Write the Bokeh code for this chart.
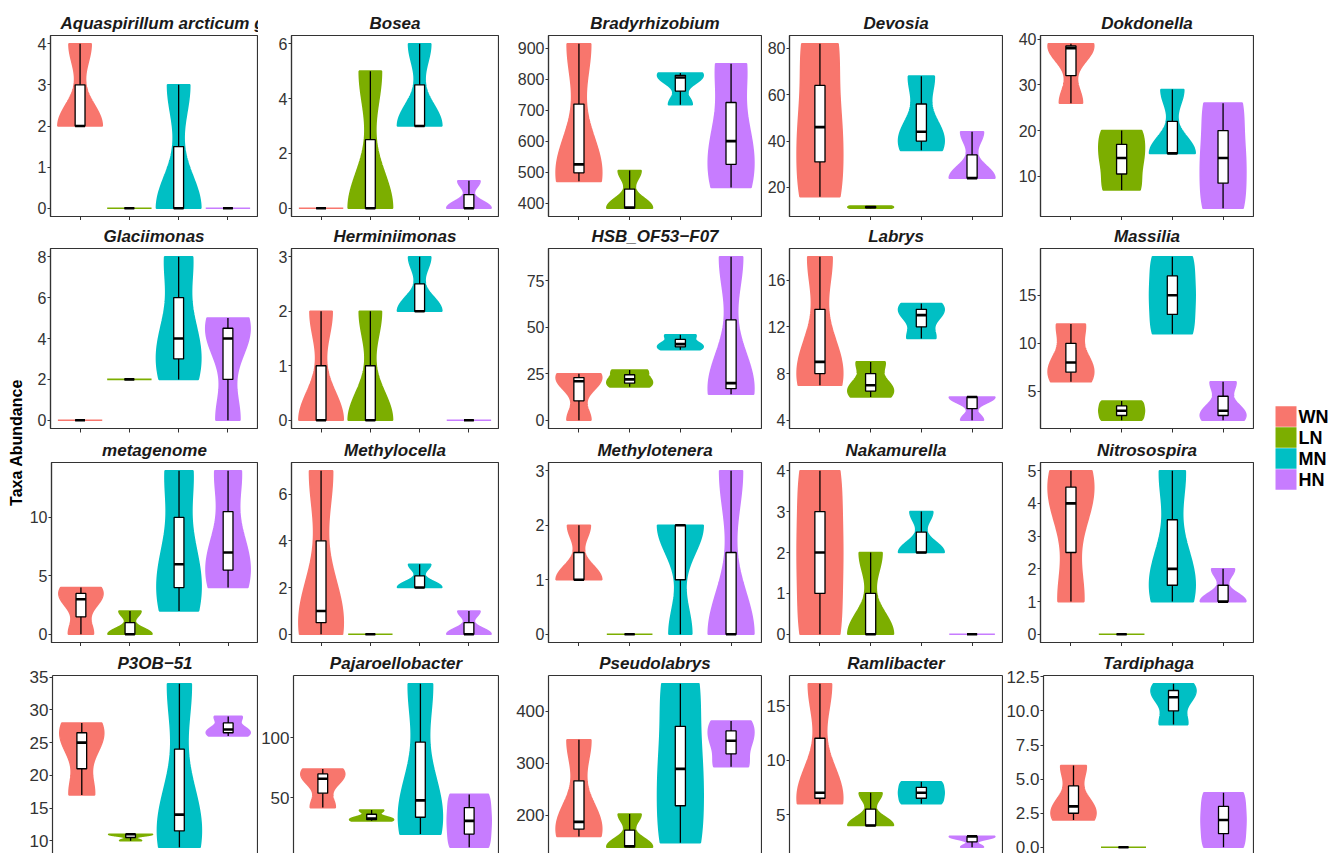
import numpy as np
from bokeh.plotting import figure
from bokeh.layouts import row, column
from bokeh.models import Range1d, FixedTicker, LinearAxis
from bokeh.core.properties import value
from bokeh.embed import file_html
from bokeh.resources import INLINE

# ---------------- data ----------------
groups = ["WN", "LN", "MN", "HN"]
group_colors = ["#F8766D", "#7CAE00", "#00BFC4", "#C77CFF"]

titles = ["Aquaspirillum arcticum g", "Bosea", "Bradyrhizobium", "Devosia", "Dokdonella",
          "Glaciimonas", "Herminiimonas", "HSB_OF53\u2212F07", "Labrys", "Massilia",
          "metagenome", "Methylocella", "Methylotenera", "Nakamurella", "Nitrosospira",
          "P3OB\u221251", "Pajaroellobacter", "Pseudolabrys", "Ramlibacter", "Tardiphaga"]

# three replicates per group, in the order WN, LN, MN, HN
aquaspirillum = [[2, 2, 4], [0, 0, 0], [0, 0, 3], [0, 0, 0]]
bosea = [[0, 0, 0], [0, 0, 5], [3, 3, 6], [0, 0, 1]]
bradyrhizobium = [[470, 525, 915], [383, 385, 505], [718, 806, 820], [450, 600, 850]]
devosia = [[16, 46, 82], [11, 11.5, 12], [36, 44, 68], [24, 24, 44]]
dokdonella = [[26, 38, 39], [7, 14, 20], [15, 15, 29], [3, 14, 26]]
glaciimonas = [[0, 0, 0], [2, 2, 2], [2, 4, 8], [0, 4, 5]]
herminiimonas = [[0, 0, 2], [0, 0, 2], [2, 2, 3], [0, 0, 0]]
hsb_of53 = [[0, 21, 25], [18, 22, 27], [38, 41, 46], [14, 20, 88]]
labrys = [[7, 9, 18], [6, 7, 9], [11, 13, 14], [4, 6, 6]]
massilia = [[6, 8, 12], [2, 3, 4], [11, 15, 19], [2, 3, 6]]
metagenome = [[0, 3, 4], [0, 0, 2], [2, 6, 14], [4, 7, 14]]
methylocella = [[0, 1, 7], [0, 0, 0], [2, 2, 3], [0, 0, 1]]
methylotenera = [[1, 1, 2], [0, 0, 0], [0, 2, 2], [0, 0, 3]]
nakamurella = [[0, 2, 4], [0, 0, 2], [2, 2, 3], [0, 0, 0]]
nitrosospira = [[1, 4, 5], [0, 0, 0], [1, 2, 5], [1, 1, 2]]
p3ob_51 = [[17, 25, 28], [10, 11, 11], [9, 14, 34], [26, 27, 29]]
pajaroellobacter = [[42, 66, 74], [31, 33, 40], [20, 48, 145], [9, 31, 53]]
pseudolabrys = [[159, 187, 345], [138, 140, 202], [147, 289, 453], [293, 343, 381]]
ramlibacter = [[6, 7, 17], [4, 4, 7], [6, 7, 8], [2, 3, 3]]
tardiphaga = [[2, 3, 6], [0, 0, 0], [9, 11, 12], [0, 2, 4]]

panels = [aquaspirillum, bosea, bradyrhizobium, devosia, dokdonella,
          glaciimonas, herminiimonas, hsb_of53, labrys, massilia,
          metagenome, methylocella, methylotenera, nakamurella, nitrosospira,
          p3ob_51, pajaroellobacter, pseudolabrys, ramlibacter, tardiphaga]

y_ticks = [[0, 1, 2, 3, 4], [0, 2, 4, 6], [400, 500, 600, 700, 800, 900], [20, 40, 60, 80], [10, 20, 30, 40],
           [0, 2, 4, 6, 8], [0, 1, 2, 3], [0, 25, 50, 75], [4, 8, 12, 16], [5, 10, 15],
           [0, 5, 10], [0, 2, 4, 6], [0, 1, 2, 3], [0, 1, 2, 3, 4], [0, 1, 2, 3, 4, 5],
           [10, 15, 20, 25, 30, 35], [50, 100], [200, 300, 400], [5, 10, 15], [0, 2.5, 5, 7.5, 10, 12.5]]

y_title = "Taxa Abundance"

# ---------------- layout / style ----------------
FONT = "Liberation Sans"
INK = "#333333"
row_specs = [(220, 35, 4), (213, 28, 5), (213, 29, 4), (207, 29, 0)]   # height, top border, bottom border
col_specs = [(232, 24), (241, 33), (263, 49), (241, 27), (251, 37)]    # width, left border
LABEL_W = 26
LEGEND_W = 74
FULL_FRAME = 180.0
VIOLIN_W = 0.45
BOX_W = 0.1


def bw_nrd0(x):
    x = np.asarray(x, float)
    hi = np.std(x, ddof=1)
    q75, q25 = np.percentile(x, [75, 25])
    lo = min(hi, (q75 - q25) / 1.34)
    if not lo:
        lo = hi or abs(x[0]) or 1.0
    return 0.9 * lo * len(x) ** -0.2


def violin_shape(x, pos):
    x = np.asarray(x, float)
    lo, hi = x.min(), x.max()
    if hi == lo:
        return [pos - VIOLIN_W, pos + VIOLIN_W, pos + VIOLIN_W, pos - VIOLIN_W], [lo, lo, lo, lo]
    bw = bw_nrd0(x)
    ys = np.linspace(lo, hi, 256)
    d = np.exp(-0.5 * ((ys[:, None] - x[None, :]) / bw) ** 2).sum(axis=1)
    d = d / d.max() * VIOLIN_W
    xs = np.concatenate([pos - d, (pos + d)[::-1]])
    yy = np.concatenate([ys, ys[::-1]])
    return list(xs), list(yy)


def make_panel(k, r, c):
    vals = panels[k]
    allv = np.concatenate([np.asarray(v, float) for v in vals])
    lo, hi = allv.min(), allv.max()
    pad = 0.05 * (hi - lo)
    y0, y1 = lo - pad, hi + pad
    height, top, bottom = row_specs[r]
    width, left = col_specs[c]
    frame_h = height - top - bottom
    last = (r == len(row_specs) - 1)
    if last:
        y0 = y1 - (y1 - y0) * frame_h / FULL_FRAME
    p = figure(width=width, height=height, x_range=Range1d(0.4, 4.6), y_range=Range1d(y0, y1),
               output_backend="svg", toolbar_location=None, title=titles[k],
               min_border_left=left, min_border_right=1, min_border_top=top, min_border_bottom=bottom,
               x_axis_location=None if last else "below")
    p.background_fill_color = "white"
    p.border_fill_color = "white"
    p.xgrid.visible = False
    p.ygrid.visible = False

    t = p.title
    t.text_font = FONT
    t.text_font_size = "17px"
    t.text_font_style = "bold italic"
    t.text_color = "#1a1a1a"
    t.standoff = 5
    if k == 0:
        t.align = "left"
        t.offset = 10
    else:
        t.align = "center"

    pos = [i + 1 for i in range(len(groups))]
    xs, ys = [], []
    for i, v in enumerate(vals):
        a, b = violin_shape(v, pos[i])
        xs.append(a)
        ys.append(b)
    p.patches(xs, ys, fill_color=group_colors, line_color=group_colors, line_width=1.6)

    q1 = [float(np.percentile(v, 25)) for v in vals]
    med = [float(np.percentile(v, 50)) for v in vals]
    q3 = [float(np.percentile(v, 75)) for v in vals]
    mn = [float(min(v)) for v in vals]
    mx = [float(max(v)) for v in vals]
    p.segment(x0=pos, x1=pos, y0=mn, y1=mx, line_color="black", line_width=1.3)
    p.quad(left=[x - BOX_W for x in pos], right=[x + BOX_W for x in pos], bottom=q1, top=q3,
           fill_color="white", line_color="black", line_width=1.3)
    p.segment(x0=[x - BOX_W for x in pos], x1=[x + BOX_W for x in pos], y0=med, y1=med,
              line_color="black", line_width=2.6)

    ticks = y_ticks[k]
    fmt = (lambda v: "%d" % v) if all(float(v).is_integer() for v in ticks) else (lambda v: "%.1f" % v)
    ya = p.yaxis[0]
    ya.ticker = FixedTicker(ticks=ticks)
    ya.major_label_overrides = {float(v): fmt(v) for v in ticks}
    ya.major_label_text_font = FONT
    ya.major_label_text_font_size = "17px" if last else "16px"
    ya.major_label_text_color = INK
    ya.major_label_standoff = 1
    ya.major_tick_out = 3
    ya.major_tick_in = 0
    ya.minor_tick_out = 0
    ya.minor_tick_in = 0
    ya.major_tick_line_color = INK
    ya.axis_line_color = INK
    ya.axis_line_width = 1.2

    if not last:
        xa = p.xaxis[0]
        xa.ticker = FixedTicker(ticks=pos)
        xa.major_label_overrides = {float(x): "" for x in pos}
        xa.major_label_text_font_size = "0px"
        xa.major_label_standoff = 0
        xa.major_tick_out = 4
        xa.major_tick_in = 0
        xa.minor_tick_out = 0
        xa.minor_tick_in = 0
        xa.major_tick_line_color = INK
        xa.axis_line_color = None
        p.outline_line_color = INK
        p.outline_line_width = 1.2
    else:
        p.outline_line_color = None
        for loc in ("above", "right"):
            ax = LinearAxis(ticker=FixedTicker(ticks=[]), major_label_text_font_size="0px",
                            major_label_standoff=0, major_tick_out=0, major_tick_in=0,
                            minor_tick_out=0, minor_tick_in=0,
                            axis_line_color=INK, axis_line_width=1.2)
            p.add_layout(ax, loc)
    return p


total_h = sum(h for h, _, _ in row_specs)

# y-axis title strip
lab = figure(width=LABEL_W, height=total_h, x_range=Range1d(0, LABEL_W), y_range=Range1d(0, total_h),
             output_backend="svg", toolbar_location=None, x_axis_type=None, y_axis_type=None,
             min_border=0)
lab.outline_line_color = None
lab.xgrid.visible = False
lab.ygrid.visible = False
lab.text(x=[16], y=[total_h - 442], text=[y_title], angle=np.pi / 2,
         text_align="center", text_baseline="middle", text_font=value(FONT),
         text_font_style="bold", text_font_size="16px", text_color="black")

# panels
grid_rows = []
for r in range(4):
    grid_rows.append(row(*[make_panel(r * 5 + c, r, c) for c in range(5)], spacing=0))
panel_block = column(*grid_rows, spacing=0)

# legend strip
leg = figure(width=LEGEND_W, height=total_h, x_range=Range1d(0, LEGEND_W), y_range=Range1d(0, total_h),
             output_backend="svg", toolbar_location=None, x_axis_type=None, y_axis_type=None,
             min_border=0)
leg.outline_line_color = None
leg.xgrid.visible = False
leg.ygrid.visible = False
key_y = [total_h - (416 + 21 * i) for i in range(len(groups))]
leg.rect(x=[31.5] * len(groups), y=key_y, width=21, height=20.5, fill_color=group_colors,
         line_color=None)
leg.text(x=[44] * len(groups), y=key_y, text=groups, text_baseline="middle", text_align="left",
         text_font=value(FONT), text_font_style="bold", text_font_size="18px", text_color="black")

layout = row(lab, panel_block, leg, spacing=0)

open("out.html", "w").write(file_html(layout, INLINE))
